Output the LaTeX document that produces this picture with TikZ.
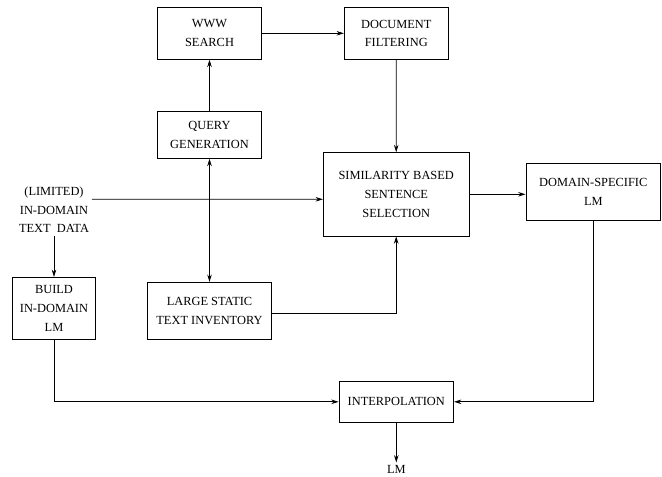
\documentclass[tikz,border=0pt]{standalone}
\usepackage{fontspec}
\setmainfont{Liberation Serif}
\usetikzlibrary{arrows.meta,positioning}

\begin{document}
\begin{tikzpicture}[x=0.75pt, y=-0.75pt,
    >={Stealth[length=5.5pt,width=3.4pt,inset=1.8pt]},
    box/.style={
      draw, line width=0.6pt, align=center, inner sep=2pt,
      font=\fontsize{9.3}{14}\selectfont
    },
    lbl/.style={align=center, inner sep=2pt, font=\fontsize{9.3}{14}\selectfont},
    link/.style={->, line width=0.6pt}
  ]
  \useasboundingbox (0,0) rectangle (662,476);

  % ===== Top row: web data collection =====
  \node[box, minimum width=78.3pt, minimum height=39pt] (www) at (209.5,33.3)
    {WWW\\SEARCH};
  \node[box, minimum width=78pt, minimum height=39pt] (filter) at (396.3,33.3)
    {DOCUMENT\\FILTERING};
  \node[box, minimum width=78.3pt, minimum height=35pt] (query) at (209.5,135)
    {QUERY\\GENERATION};

  % ===== Middle row: selection =====
  \node[lbl] (indata) at (54,210)
    {(LIMITED)\\IN-DOMAIN\\TEXT~ DATA};
  \node[box, minimum width=109.3pt, minimum height=62.5pt] (simsel) at (396.2,194.3)
    {SIMILARITY BASED\\SENTENCE\\SELECTION};
  \node[box, minimum width=101pt, minimum height=42.5pt] (dslm) at (593.3,191.7)
    {DOMAIN-SPECIFIC\\LM};

  % ===== Lower row: in-domain model and inventory =====
  \node[box, minimum width=62.5pt, minimum height=46.5pt] (build) at (54,308.3)
    {BUILD\\IN-DOMAIN\\LM};
  \node[box, minimum width=93.5pt, minimum height=42.8pt] (inventory) at (209.5,310.8)
    {LARGE STATIC\\TEXT INVENTORY};

  % ===== Output =====
  \node[box, minimum width=86pt, minimum height=31.3pt] (interp) at (396.3,401.8)
    {INTERPOLATION};
  \node[lbl] (outlm) at (396.3,469.5) {LM};

  % Connectors
  \draw[link] (query.north) -- (www.south);
  \draw[link] (www.east) -- (filter.west);
  \draw[link] (filter.south) -- (simsel.north);
  \draw[link] ([yshift=8pt]indata.east) -- ([yshift=-3.75pt]simsel.west);
  \draw[link] (indata.south) -- (build.north);
  \draw[link, <->] (query.south) -- (inventory.north);
  \draw[link] ([yshift=-1.8pt]inventory.east) -| (simsel.south);
  \draw[link] (simsel.east) -- (simsel.east -| dslm.west);
  \draw[link] (dslm.south) |- (interp.east);
  \draw[link] (build.south) |- (interp.west);
  \draw[link] (interp.south) -- (outlm.north);

\end{tikzpicture}
\end{document}
